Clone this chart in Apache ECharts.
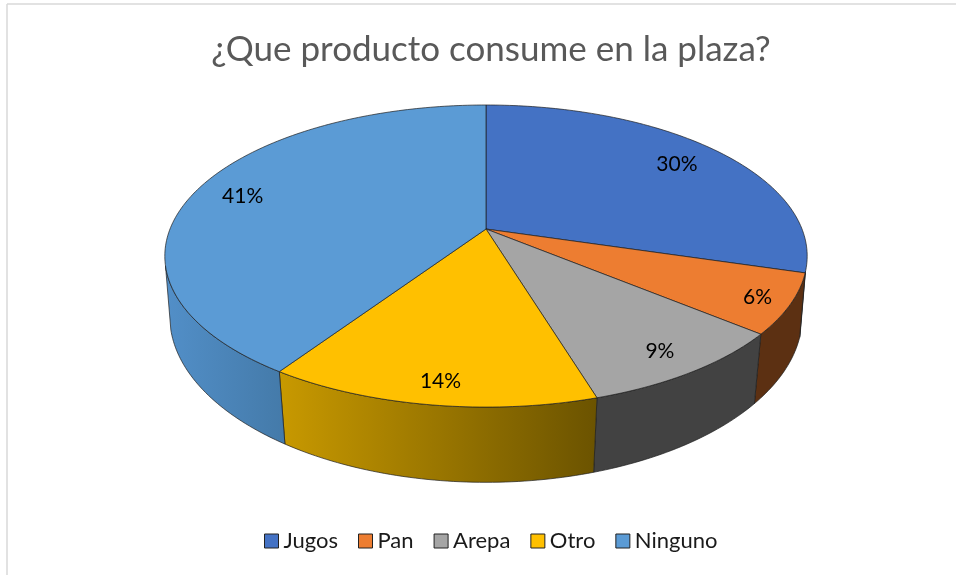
<!DOCTYPE html>
<html>
<head>
<meta charset="utf-8">
<style>html,body{margin:0;padding:0;background:#fff}#c{width:956px;height:575px}</style>
<script src="https://cdn.jsdelivr.net/npm/echarts@6/dist/echarts.min.js"></script>
</head>
<body>
<div id="c"></div>
<script>
const titleText = '¿Que producto consume en la plaza?';
const categories = ['Jugos', 'Pan', 'Arepa', 'Otro', 'Ninguno'];
const shares = [29.6, 6.4, 9.3, 14.1, 40.6];

const topColors = ['#4472C4', '#ED7D31', '#A5A5A5', '#FFC000', '#5B9BD5'];
const wallStops = [
  ['#27436f', '#27436f'],
  ['#5c3012', '#5c3012'],
  ['#424242', '#424242'],
  ['#c89900', '#6b5300'],
  ['#528fc8', '#447aa9']
];
const wallSpans = [[780, 807], [755, 807], [594, 756], [280, 597], [165, 285]];
const labelRadii = [0.82, 0.9, 0.865, 0.88, 0.84];
const labelShiftX = [0, 0, 0, 3, 0];

const FONT = 'Lato, sans-serif';
const CX = 486, CY = 229, RX = 316, A = 146.2, B = -0.179;
const WALL_FROM = 106, WALL_TO = 256;

function project(deg, f) {
  const t = deg * Math.PI / 180;
  const u = f * Math.sin(t), v = -f * Math.cos(t);
  const d = 1 + B * v;
  return [CX + RX * u / d, CY + A * v / d];
}
function lower(p) {
  const dy = p[1] - CY;
  return [CX + (p[0] - CX) * (0.987 - 0.0001 * dy), CY + dy * 1.08 + 61];
}
function arc(a, b) {
  const pts = [], n = Math.max(2, Math.ceil(Math.abs(b - a)));
  for (let i = 0; i <= n; i++) pts.push(project(a + (b - a) * i / n, 1));
  return pts;
}

const total = shares.reduce((s, x) => s + x, 0);
let running = 0;
const series = categories.map((name, i) => {
  const start = running / total * 360;
  running += shares[i];
  const end = running / total * 360;
  return {
    type: 'custom',
    name,
    coordinateSystem: 'none',
    silent: true,
    animation: false,
    itemStyle: { color: topColors[i] },
    data: [{ name, value: [start, end, shares[i]] }],
    renderItem: (params, api) => {
      const s = api.value(0), e = api.value(1), share = api.value(2);
      const children = [];
      const a = Math.max(s, WALL_FROM), b = Math.min(e, WALL_TO);
      if (b > a) {
        const upper = arc(a, b);
        const walls = upper.concat(upper.map(lower).reverse());
        children.push({
          type: 'polygon', z2: 1,
          shape: { points: walls },
          style: {
            fill: new echarts.graphic.LinearGradient(wallSpans[i][0], 0, wallSpans[i][1], 0, [
              { offset: 0, color: wallStops[i][0] },
              { offset: 1, color: wallStops[i][1] }
            ], true),
            stroke: '#1e1e1e', lineWidth: 0.7, lineJoin: 'round'
          }
        });
      }
      children.push({
        type: 'polygon', z2: 2,
        shape: { points: [[CX, CY]].concat(arc(s, e)) },
        style: { fill: topColors[i], stroke: '#1e1e1e', lineWidth: 0.7, lineJoin: 'round' }
      });
      const lp = project((s + e) / 2, labelRadii[i]);
      children.push({
        type: 'text', z2: 3,
        style: {
          text: Math.round(share / total * 100) + '%',
          x: lp[0] + labelShiftX[i], y: lp[1] + 1, align: 'center', verticalAlign: 'middle',
          font: '21px ' + FONT, fill: '#000'
        }
      });
      return { type: 'group', children };
    }
  };
});

const chart = echarts.init(document.getElementById('c'), null, { renderer: 'canvas' });
chart.setOption({
  backgroundColor: '#fff',
  animation: false,
  title: {
    text: titleText, left: 486, top: 27, textAlign: 'center',
    textStyle: { fontFamily: FONT, fontSize: 35, fontWeight: 'normal', color: '#595959' }
  },
  legend: {
    left: 259, top: 525, itemWidth: 14, itemHeight: 14, itemGap: 20,
    icon: 'rect', selectedMode: false,
    data: categories,
    itemStyle: { borderColor: '#222', borderWidth: 1 },
    textStyle: { fontFamily: FONT, fontSize: 22, color: '#1a1a1a' }
  },
  graphic: [
    { type: 'line', silent: true, shape: { x1: 7, y1: 4, x2: 7, y2: 575 }, style: { stroke: '#d9d9d9', lineWidth: 1.5 } },
    { type: 'line', silent: true, shape: { x1: 7, y1: 4, x2: 956, y2: 4 }, style: { stroke: '#d9d9d9', lineWidth: 1.5 } }
  ],
  series
});
</script>
</body>
</html>
